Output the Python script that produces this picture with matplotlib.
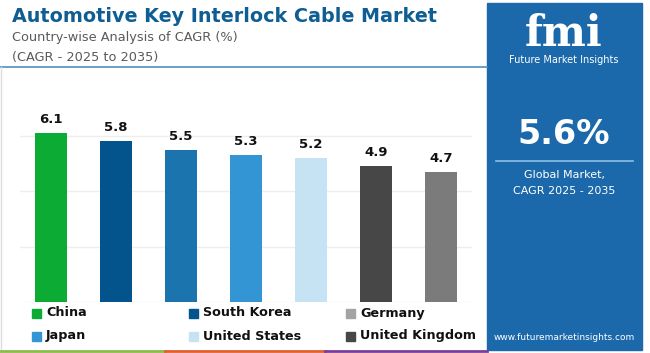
import matplotlib.pyplot as plt
from matplotlib.patches import Rectangle
from matplotlib.lines import Line2D

# bar data (left to right)
bar_values = [6.1, 5.8, 5.5, 5.3, 5.2, 4.9, 4.7]
bar_colors = ['#0bab34', '#03548c', '#1b74ae', '#3495d4', '#c5e3f2', '#474747', '#7b7b7b']

# legend entries, row by row
legend_names = ['China', 'South Korea', 'Germany', 'Japan', 'United States', 'United Kingdom']
legend_colors = ['#0bab34', '#03548c', '#a3a3a3', '#3495d4', '#c5e3f2', '#474747']

global_cagr = '5.6%'

W, H = 650, 353
PANEL = '#1b69ab'


def fx(x):
    return x / W


def fy(y):
    return 1 - y / H


plt.rcParams['font.family'] = ['DejaVu Sans']

fig = plt.figure(figsize=(6.5, 3.53), dpi=100)
fig.patch.set_facecolor('white')

# title block
fig.text(fx(12), fy(17), 'Automotive Key Interlock Cable Market', fontsize=13.8,
         fontweight='bold', color='#0e5d93', va='center', ha='left')
fig.text(fx(12), fy(38), 'Country-wise Analysis of CAGR (%)', fontsize=9.3,
         color='#5a5a5a', va='center', ha='left')
fig.text(fx(12), fy(57), '(CAGR - 2025 to 2035)', fontsize=9.3,
         color='#5a5a5a', va='center', ha='left')
fig.add_artist(Line2D([fx(0), fx(487)], [fy(67), fy(67)], color='#4f8fc0', lw=1.2))
fig.add_artist(Line2D([fx(1), fx(1)], [fy(67), fy(349)], color='#dddddd', lw=1))

# bars
ax = fig.add_axes([fx(20), fy(302), fx(472) - fx(20), fy(119) - fy(302)])
x = list(range(len(bar_values)))
bars = ax.bar(x, bar_values, width=0.49, color=bar_colors, zorder=3)
for b, v in zip(bars, bar_values):
    ax.annotate(f'{v:.1f}', (b.get_x() + b.get_width() / 2, v), xytext=(0, 5),
                textcoords='offset points', ha='center', va='bottom',
                fontsize=9.5, fontweight='bold', color='#111111')
ax.set_xlim(-0.48, len(bar_values) - 0.52)
ax.set_ylim(0, 6.6)
ax.set_yticks([0, 2, 4, 6])
ax.yaxis.grid(True, color='#eeeeee', lw=1, zorder=0)
ax.tick_params(left=False, bottom=False, labelleft=False, labelbottom=False)
for s in ax.spines.values():
    s.set_visible(False)

# legend
col_x = [32, 189, 346]
row_y = [313, 336]
for i, (name, c) in enumerate(zip(legend_names, legend_colors)):
    cx = col_x[i % 3]
    ry = row_y[i // 3]
    fig.add_artist(Rectangle((fx(cx), fy(ry + 4.5)), fx(9), 9 / H, color=c))
    fig.text(fx(cx + 14), fy(ry), name, fontsize=9.2, fontweight='bold',
             color='#111111', va='center', ha='left')

# bottom stripe
for x0, x1, c in [(0, 165, '#8cbb4d'), (165, 325, '#e0602f'), (325, 487, '#7b3d98')]:
    fig.add_artist(Line2D([fx(x0), fx(x1)], [fy(351), fy(351)], color=c, lw=2))

# right panel
fig.add_artist(Rectangle((fx(487), fy(350)), fx(642) - fx(487), 347 / H, color=PANEL))
fig.text(fx(564), fy(34), 'fmi', fontsize=30, fontweight='bold', family='DejaVu Serif',
         color='white', ha='center', va='center')
for yy in range(17, 51, 3):
    fig.add_artist(Line2D([fx(505), fx(622)], [fy(yy), fy(yy)], color=PANEL, lw=0.6))
fig.text(fx(564), fy(60), 'Future Market Insights', fontsize=7, color='white',
         ha='center', va='center')
fig.text(fx(564), fy(134), global_cagr, fontsize=24, fontweight='bold', color='white',
         ha='center', va='center')
fig.add_artist(Line2D([fx(496), fx(633)], [fy(161), fy(161)], color='#8cc0e8', lw=1.2))
fig.text(fx(564), fy(175), 'Global Market,', fontsize=8, color='white',
         ha='center', va='center')
fig.text(fx(564), fy(191), 'CAGR 2025 - 2035', fontsize=8, color='white',
         ha='center', va='center')
fig.text(fx(564), fy(337), 'www.futuremarketinsights.com', fontsize=6.5, color='white',
         ha='center', va='center')

fig.savefig('out.png', dpi=100)
